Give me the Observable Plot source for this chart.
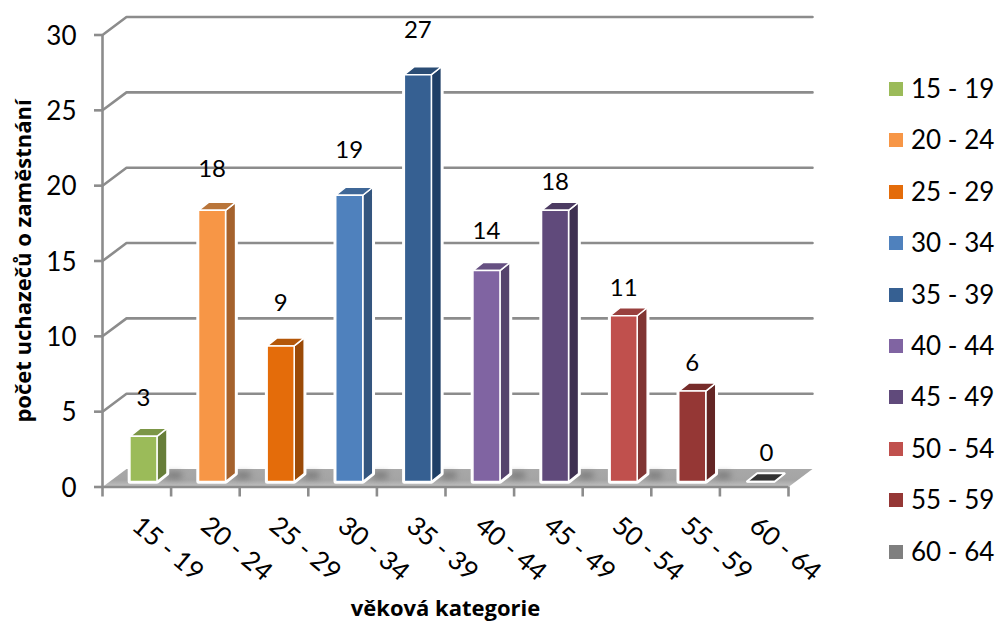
<!DOCTYPE html>
<html lang="cs">
<head>
<meta charset="utf-8">
<script src="https://cdn.jsdelivr.net/npm/d3@7"></script>
<script src="https://cdn.jsdelivr.net/npm/@observablehq/plot@0.6"></script>
<style>
  html, body { margin: 0; background: #fff; }
  #chart { position: relative; width: 995px; height: 621px; overflow: hidden; font-family: Lato, sans-serif; }
  #chart svg { display: block; }
  .legend { position: absolute; left: 889px; top: 63px; }
  .legend div { position: absolute; left: 0; width: 106px; height: 28px; line-height: 28px; font-size: 26px; color: #000; white-space: nowrap; }
  .legend i { position: absolute; left: 0; top: 7px; width: 14px; height: 14px; }
  .legend span { position: absolute; left: 22px; top: -1px; }
</style>
</head>
<body>
<div id="chart"></div>
<script>
// Applicants for employment by age group
const categories = ["15 - 19", "20 - 24", "25 - 29", "30 - 34", "35 - 39", "40 - 44", "45 - 49", "50 - 54", "55 - 59", "60 - 64"];
const counts = [3, 18, 9, 19, 27, 14, 18, 11, 6, 0];
const frontColors = ["#9BBB59", "#F79646", "#E46C0A", "#4F81BD", "#366092", "#8064A2", "#604A7B", "#C0504D", "#953735", "#7F7F7F"];
const sideColors = ["#677E39", "#A5622D", "#9B4A07", "#34567F", "#1F3F66", "#55436D", "#3F3152", "#803533", "#632524", "#3A3A3A"];
const topColors = ["#7C9647", "#B9753A", "#B45708", "#3F6797", "#2B4D75", "#665082", "#4C3B62", "#99403E", "#772C2A", "#333333"];
const yTicks = [0, 5, 10, 15, 20, 25, 30];
const labelLift = [2.55, 2.75, 2.82, 2.95, 2.93, 2.6, 1.85, 1.85, 1.85, 1.85];
const labelSlide = [0, 0, 0, 0, 0, 0, 0, 0, 0, 0.08];

// Oblique projection of the chart box, expressed in axis units
const wallX = 0.35, wallY = 1.19;
const barLeft = 0.4, barWidth = 0.394, barFloor = 0.365, barDepthX = 0.146, barDepthY = 0.53;

const polygon = (key, fill, points) => points.map(([x, y], order) => ({key, fill, x, y, order}));
const bars = counts.map((v, i) => {
  const x0 = i + barLeft, x1 = x0 + barWidth, y0 = barFloor, y1 = v + barFloor;
  const xb = barDepthX, yb = barDepthY;
  return {
    x0, x1, y0, y1, xb, yb, i, v,
    front: polygon(`f${i}`, frontColors[i], [[x0, y0], [x1, y0], [x1, y1], [x0, y1], [x0, y0]]),
    side: polygon(`s${i}`, sideColors[i], [[x1, y0], [x1 + xb, y0 + yb], [x1 + xb, y1 + yb], [x1, y1], [x1, y0]]),
    top: polygon(`t${i}`, topColors[i], [[x0, y1], [x1, y1], [x1 + xb, y1 + yb], [x0 + xb, y1 + yb], [x0, y1]]),
    outline: polygon(`o${i}`, "#fff", [[x0, y0], [x1, y0], [x1 + xb, y0 + yb], [x1 + xb, y1 + yb], [x0 + xb, y1 + yb], [x0, y1], [x0, y0]])
  };
});

const floor = polygon("floor", "url(#floorShade)", [[0, 0], [wallX, wallY], [10 + wallX, wallY], [10, 0], [0, 0]]);
const grid = yTicks.filter(v => v > 0).flatMap(v => [
  {v, x: 0, y: v},
  {v, x: wallX, y: v + wallY},
  {v, x: 10 + wallX, y: v + wallY}
]);
// Soft contact shadow on the floor beside each bar
const floorShadows = bars.filter(b => b.i < 9).flatMap(b => polygon(`sh${b.i}`, "#5a5a5a", [
  [b.x1 + b.xb, b.y0 + 0.2], [b.x1 + 0.36, b.y0 + 0.2], [b.x1 + 0.36, b.y0 + 0.62], [b.x1 + b.xb, b.y0 + 0.62], [b.x1 + b.xb, b.y0 + 0.2]
]));

const facePath = (rows) => Plot.line(rows, {x: "x", y: "y", z: "key", fill: "fill", stroke: "#fff", strokeWidth: 1.5, strokeLinejoin: "round"});

const plot = Plot.plot({
  width: 995,
  height: 621,
  marginLeft: 102,
  marginRight: 207,
  marginTop: 34.5,
  marginBottom: 134.5,
  style: {fontFamily: "Lato, sans-serif", fontSize: "26px", background: "#fff", overflow: "visible"},
  x: {type: "linear", domain: [0, 10]},
  y: {type: "linear", domain: [0, 30]},
  color: {type: "identity"},
  marks: [
    Plot.line(floor, {x: "x", y: "y", fill: "fill", stroke: "none"}),
    Plot.line(floorShadows, {x: "x", y: "y", z: "key", fill: "fill", stroke: "none", imageFilter: "blur(3px)", fillOpacity: 0.6}),
    Plot.line(grid, {x: "x", y: "y", z: "v", stroke: "#8C8C8C", strokeWidth: 2.6, strokeLinejoin: "miter"}),
    Plot.ruleX([0], {y1: 0, y2: 30, stroke: "#8C8C8C", strokeWidth: 2.6}),
    Plot.ruleY([0], {x1: 0, x2: 10, stroke: "#8C8C8C", strokeWidth: 2.6}),
    Plot.axisY({
      ticks: yTicks, tickSize: 8, tickFormat: () => "", stroke: "#8C8C8C", strokeWidth: 2.6, label: null
    }),
    Plot.axisY({
      ticks: yTicks, tickSize: 0, tickPadding: 26, dy: 1.5, fill: "#000", fontSize: 26, label: null
    }),
    Plot.axisX({
      ticks: d3.range(0, 11), tickSize: 10, tickFormat: () => "", stroke: "#8C8C8C", strokeWidth: 2.6, label: null
    }),
    ...bars.flatMap(b => [
      Plot.line(b.outline, {x: "x", y: "y", z: "key", fill: "#fff", stroke: "#fff", strokeWidth: b.v > 0 ? 4.5 : 2.5, strokeLinejoin: "round"}),
      facePath(b.side),
      facePath(b.top),
      facePath(b.front)
    ]),
    Plot.text(categories, {
      x: (d, i) => i + 0.5, y: 0, text: d => d, rotate: 40, dx: 31, dy: 62,
      fontSize: 26, fill: "#000", textAnchor: "middle"
    }),
    Plot.text(counts, {
      x: (d, i) => i + barLeft + barWidth / 2 + labelSlide[i], y: (d, i) => d + barFloor + labelLift[i],
      text: d => String(d), fontSize: 24, fill: "#000", textAnchor: "middle"
    }),
    Plot.text(["počet uchazečů o zaměstnání"], {
      x: 0, y: 15, text: d => d, rotate: -90, dx: -79, fontFamily: "'Open Sans', sans-serif",
      fontSize: 22, fontWeight: "bold", fill: "#000", textAnchor: "middle"
    }),
    Plot.text(["věková kategorie"], {
      x: 5, y: 0, text: d => d, dy: 122, fontFamily: "'Open Sans', sans-serif",
      fontSize: 22, fontWeight: "bold", fill: "#000", textAnchor: "middle"
    })
  ]
});

// Floor tone: lighter strip along the front edge
const svgNS = "http://www.w3.org/2000/svg";
const defs = document.createElementNS(svgNS, "defs");
defs.innerHTML = `<linearGradient id="floorShade" x1="0" y1="0" x2="0" y2="1">
  <stop offset="0" stop-color="#a8a8a8"/><stop offset="0.6" stop-color="#a4a4a4"/><stop offset="1" stop-color="#c2c2c2"/>
</linearGradient>`;
plot.prepend(defs);

const root = document.getElementById("chart");
root.append(plot);

// Legend column to the right of the plot
const legend = document.createElement("div");
legend.className = "legend";
categories.forEach((c, i) => {
  const row = document.createElement("div");
  row.style.top = `${12 + i * 51.4}px`;
  row.innerHTML = `<i style="background:${frontColors[i]}"></i><span>${c}</span>`;
  legend.append(row);
});
root.append(legend);
</script>
</body>
</html>
